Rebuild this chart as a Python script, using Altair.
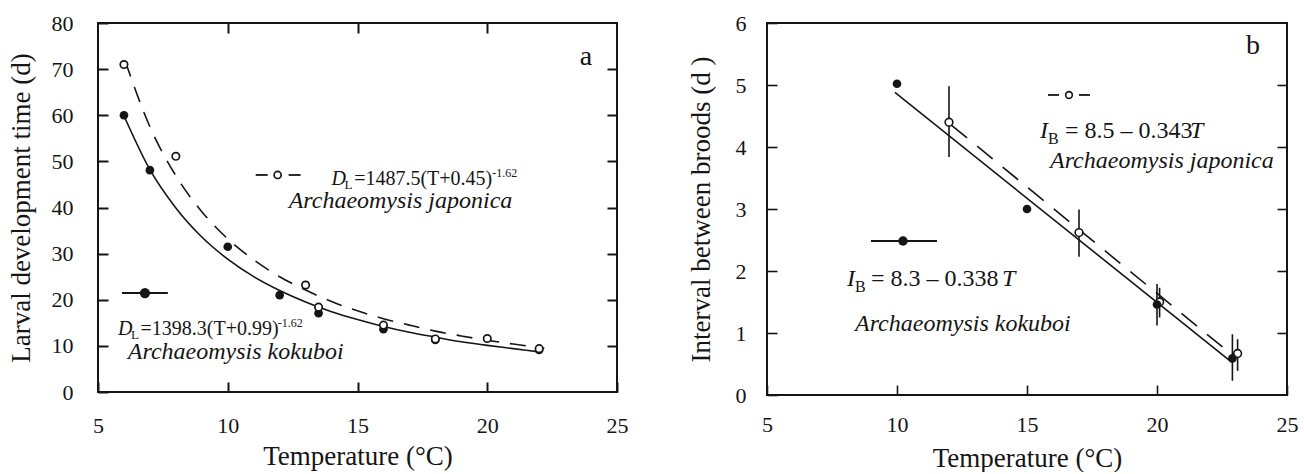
import altair as alt
import pandas as pd

FONT = "Liberation Serif"
INK = "#151515"

# ---------------- Panel a : larval development time ----------------
a_kok_T = [6, 7, 10, 12, 13.5, 16, 18, 22]
a_kok_D = [60.0, 48.1, 31.5, 21.0, 17.1, 13.6, 11.3, 9.1]
a_jap_T = [6, 8, 13, 13.5, 16, 18, 20, 22]
a_jap_D = [71.0, 51.1, 23.2, 18.4, 14.5, 11.5, 11.6, 9.4]
# fitted curves
a_fitkok_T = [6, 7, 8, 9, 10, 11, 12, 13, 14, 15, 16, 17, 18, 19, 20, 21, 22]
a_fitkok_D = [59.9, 48.2, 39.9, 33.6, 28.8, 25.0, 22.0, 19.5, 17.4, 15.7, 14.2, 12.95, 11.9, 10.9, 10.1, 9.4, 8.7]
a_fitjap_T = [6.05, 7, 8, 9, 10, 11, 12, 13, 14, 15, 16, 17, 18, 19, 20, 21, 22.2]
a_fitjap_D = [71.7, 57.5, 46.9, 39.1, 33.2, 28.65, 25.0, 22.1, 19.6, 17.6, 15.9, 14.5, 13.2, 12.15, 11.2, 10.4, 9.5]
a_xticks = [5, 10, 15, 20, 25]
a_yticks = [0, 10, 20, 30, 40, 50, 60, 70, 80]
a_inner_x = [10, 15, 20]
a_inner_y = [10, 20, 30, 40, 50, 60, 70]

# ---------------- Panel b : interval between broods ----------------
b_kok_T = [10, 15, 20, 22.9]
b_kok_I = [5.02, 3.0, 1.46, 0.59]
b_jap_T = [12, 17, 20.1, 23.1]
b_jap_I = [4.4, 2.62, 1.5, 0.67]
b_kokbar_T = [20, 22.9]
b_kokbar_lo = [1.12, 0.23]
b_kokbar_hi = [1.79, 0.98]
b_japbar_T = [12, 17, 20.1, 23.1]
b_japbar_lo = [3.84, 2.23, 1.25, 0.39]
b_japbar_hi = [4.98, 2.99, 1.73, 0.90]
b_fitkok_T = [9.92, 22.87]
b_fitkok_I = [4.88, 0.53]
b_fitjap_T = [12.1, 23.0]
b_fitjap_I = [4.35, 0.61]
b_xticks = [5, 10, 15, 20, 25]
b_yticks = [0, 1, 2, 3, 4, 5, 6]
b_inner_x = [10, 15, 20]
b_inner_y = [1, 2, 3, 4, 5]

# ---------------- annotation text pieces (data units) ----------------
a_txt_norm = pd.DataFrame({
    "t": ["L", "=1487.5(T+0.45)", "-1.62", "L", "=1398.3(T+0.99)", "-1.62"],
    "x": [14.50, 14.87, 20.19, 6.27, 6.64, 11.923],
    "y": [44.01, 44.88, 46.61, 11.49, 12.36, 14.09],
    "s": [13, 20, 12, 13, 20, 12],
})
a_txt_ital = pd.DataFrame({
    "t": ["D", "Archaeomysis japonica", "D", "Archaeomysis kokuboi"],
    "x": [14.0, 12.346, 5.769, 6.15],
    "y": [44.88, 39.89, 12.36, 7.15],
    "s": [20, 24, 20, 24],
})
a_letter = pd.DataFrame({"t": ["a"], "x": [23.8], "y": [70.89]})
a_leg_dash = pd.DataFrame({"x": [11.077, 12.346], "x2": [11.538, 12.808], "y": [47.05, 47.05]})
a_leg_open = pd.DataFrame({"x": [11.923], "y": [47.05]})
a_leg_line = pd.DataFrame({"x": [5.923], "x2": [7.692], "y": [21.46]})
a_leg_fill = pd.DataFrame({"x": [6.808], "y": [21.46]})

b_txt_norm = pd.DataFrame({
    "t": ["B", "= 8.5 \u2013 0.343", "B", "= 8.3 \u2013 0.338"],
    "x": [15.808, 16.462, 8.385, 9.0],
    "y": [4.048, 4.145, 1.661, 1.758],
    "s": [16, 24, 16, 24],
})
b_txt_ital = pd.DataFrame({
    "t": ["I", "T", "Archaeomysis japonica", "I", "T", "Archaeomysis kokuboi"],
    "x": [15.5, 21.269, 15.885, 8.077, 14.038, 8.385],
    "y": [4.145, 4.145, 3.661, 1.758, 1.758, 1.032],
    "s": [24, 24, 24, 24, 24, 24],
})
b_letter = pd.DataFrame({"t": ["b"], "x": [23.692], "y": [5.5]})
b_leg_dash = pd.DataFrame({"x": [15.808, 17.0], "x2": [16.231, 17.423], "y": [4.839, 4.839]})
b_leg_open = pd.DataFrame({"x": [16.615], "y": [4.839]})
b_leg_line = pd.DataFrame({"x": [9.0], "x2": [11.538], "y": [2.484]})
b_leg_fill = pd.DataFrame({"x": [10.231], "y": [2.484]})

XA = alt.Scale(domain=[5, 25], nice=False, zero=False)
YA = alt.Scale(domain=[0, 80], nice=False)
XB = alt.Scale(domain=[5, 25], nice=False, zero=False)
YB = alt.Scale(domain=[0, 6], nice=False)
SC = {"a": (XA, YA), "b": (XB, YB)}


def ax(**kw):
    # inward ticks: the axis is moved 10 px inside the frame and its 10 px ticks reach back to it
    base = dict(domain=False, grid=False, ticks=True, tickSize=10, offset=-10, zindex=1,
                tickColor=INK, labelColor=INK, titleColor=INK,
                labelFont=FONT, titleFont=FONT, labelFontSize=22, titleFontSize=27,
                titleFontWeight="normal", labelFlush=False, labelOverlap=False)
    base.update(kw)
    return alt.Axis(**base)


def xy(df, p, xf="x", yf="y"):
    return alt.Chart(df).encode(
        x=alt.X(f"{xf}:Q", scale=SC[p][0], axis=None),
        y=alt.Y(f"{yf}:Q", scale=SC[p][1], axis=None),
    )


def pts(T, V):
    return pd.DataFrame({"x": T, "y": V})


def text_layers(norm, ital, letter, p):
    n = xy(norm, p).mark_text(font=FONT, align="left", baseline="alphabetic", color=INK).encode(
        text="t:N", size=alt.Size("s:Q", scale=None))
    i = xy(ital, p).mark_text(font=FONT, fontStyle="italic", align="left", baseline="alphabetic",
                              color=INK).encode(text="t:N", size=alt.Size("s:Q", scale=None))
    l = xy(letter, p).mark_text(font=FONT, fontSize=28, align="center", baseline="alphabetic",
                                color=INK).encode(text="t:N")
    return [n, i, l]


def axis_layers(p, df, xvals, yvals, inner_x, inner_y, w, xlp, ylp, xtitle, ytitle, xtp, ytp, top=True):
    main = alt.Chart(df).mark_point(opacity=0).encode(
        x=alt.X("x:Q", scale=SC[p][0], axis=ax(values=xvals, labelPadding=xlp, title=xtitle,
                                                  titlePadding=xtp, tickWidth=w)),
        y=alt.Y("y:Q", scale=SC[p][1], axis=ax(values=yvals, labelPadding=ylp, title=ytitle,
                                                  titlePadding=ytp, tickWidth=w)),
    )
    if top:
        xmir = alt.X("x:Q", scale=SC[p][0], axis=ax(orient="top", values=inner_x, labels=False,
                                                       title=None, tickWidth=w))
    else:
        xmir = alt.X("x:Q", scale=SC[p][0], axis=None)
    mirror = alt.Chart(df).mark_point(opacity=0).encode(
        x=xmir,
        y=alt.Y("y:Q", scale=SC[p][1], axis=ax(orient="right", values=inner_y, labels=False,
                                                  title=None, tickWidth=w)),
    )
    return [main, mirror]


def open_pts(df, p, size, sw=1.7):
    return xy(df, p).mark_point(shape="circle", filled=True, fill="white", stroke=INK,
                                strokeWidth=sw, opacity=1, size=size)


def fill_pts(df, p, size):
    return xy(df, p).mark_circle(color=INK, opacity=1, size=size)


def hrule(df, p, w=1.8):
    return alt.Chart(df).mark_rule(color=INK, strokeWidth=w).encode(
        x=alt.X("x:Q", scale=SC[p][0], axis=None), x2="x2:Q", y=alt.Y("y:Q", scale=SC[p][1], axis=None))


def vbars(df, p, w=1.6):
    return alt.Chart(df).mark_rule(color=INK, strokeWidth=w).encode(
        x=alt.X("x:Q", scale=SC[p][0], axis=None), y=alt.Y("lo:Q", scale=SC[p][1], axis=None), y2="hi:Q")


# ---------------- build panel a ----------------
a_curve_kok = xy(pts(a_fitkok_T, a_fitkok_D), "a").mark_line(color=INK, strokeWidth=1.6, interpolate="monotone")
a_curve_jap = xy(pts(a_fitjap_T, a_fitjap_D), "a").mark_line(color=INK, strokeWidth=1.6, interpolate="monotone",
                                                              strokeDash=[16, 11])
panel_a = alt.layer(
    *axis_layers("a", pts(a_kok_T, a_kok_D), a_xticks, a_yticks, a_inner_x, a_inner_y, 2,
                 23, 25, "Temperature (°C)", "Larval development time (d)", 7, 16, top=True),
    a_curve_kok, a_curve_jap,
    fill_pts(pts(a_kok_T, a_kok_D), "a", 75),
    open_pts(pts(a_jap_T, a_jap_D), "a", 55),
    hrule(a_leg_dash, "a"), open_pts(a_leg_open, "a", 50),
    hrule(a_leg_line, "a"), fill_pts(a_leg_fill, "a", 105),
    *text_layers(a_txt_norm, a_txt_ital, a_letter, "a")
).resolve_axis(x="independent", y="independent").properties(width=519, height=369)

# ---------------- build panel b ----------------
b_line_kok = xy(pts(b_fitkok_T, b_fitkok_I), "b").mark_line(color=INK, strokeWidth=1.6)
b_line_jap = xy(pts(b_fitjap_T, b_fitjap_I), "b").mark_line(color=INK, strokeWidth=1.6, strokeDash=[20, 13])
panel_b = alt.layer(
    *axis_layers("b", pts(b_kok_T, b_kok_I), b_xticks, b_yticks, b_inner_x, b_inner_y, 1.6,
                 19, 21, "Temperature (°C)", "Interval between broods (d )", 10, 20, top=False),
    b_line_kok, b_line_jap,
    vbars(pd.DataFrame({"x": b_japbar_T, "lo": b_japbar_lo, "hi": b_japbar_hi}), "b"),
    vbars(pd.DataFrame({"x": b_kokbar_T, "lo": b_kokbar_lo, "hi": b_kokbar_hi}), "b"),
    open_pts(pts(b_jap_T, b_jap_I), "b", 60, 1.6),
    fill_pts(pts(b_kok_T, b_kok_I), "b", 75),
    hrule(b_leg_dash, "b"), open_pts(b_leg_open, "b", 45, 1.6),
    hrule(b_leg_line, "b"), fill_pts(b_leg_fill, "b", 90),
    *text_layers(b_txt_norm, b_txt_ital, b_letter, "b")
).resolve_axis(x="independent", y="independent").properties(width=520, height=372)

chart = alt.hconcat(panel_a, panel_b, spacing=57).properties(
    padding={"left": 6, "top": 11, "right": 0, "bottom": 0}, background="white"
).configure_view(stroke=INK, strokeWidth=2)

chart.save("out.html", embed_options={"renderer": "svg", "actions": False})
